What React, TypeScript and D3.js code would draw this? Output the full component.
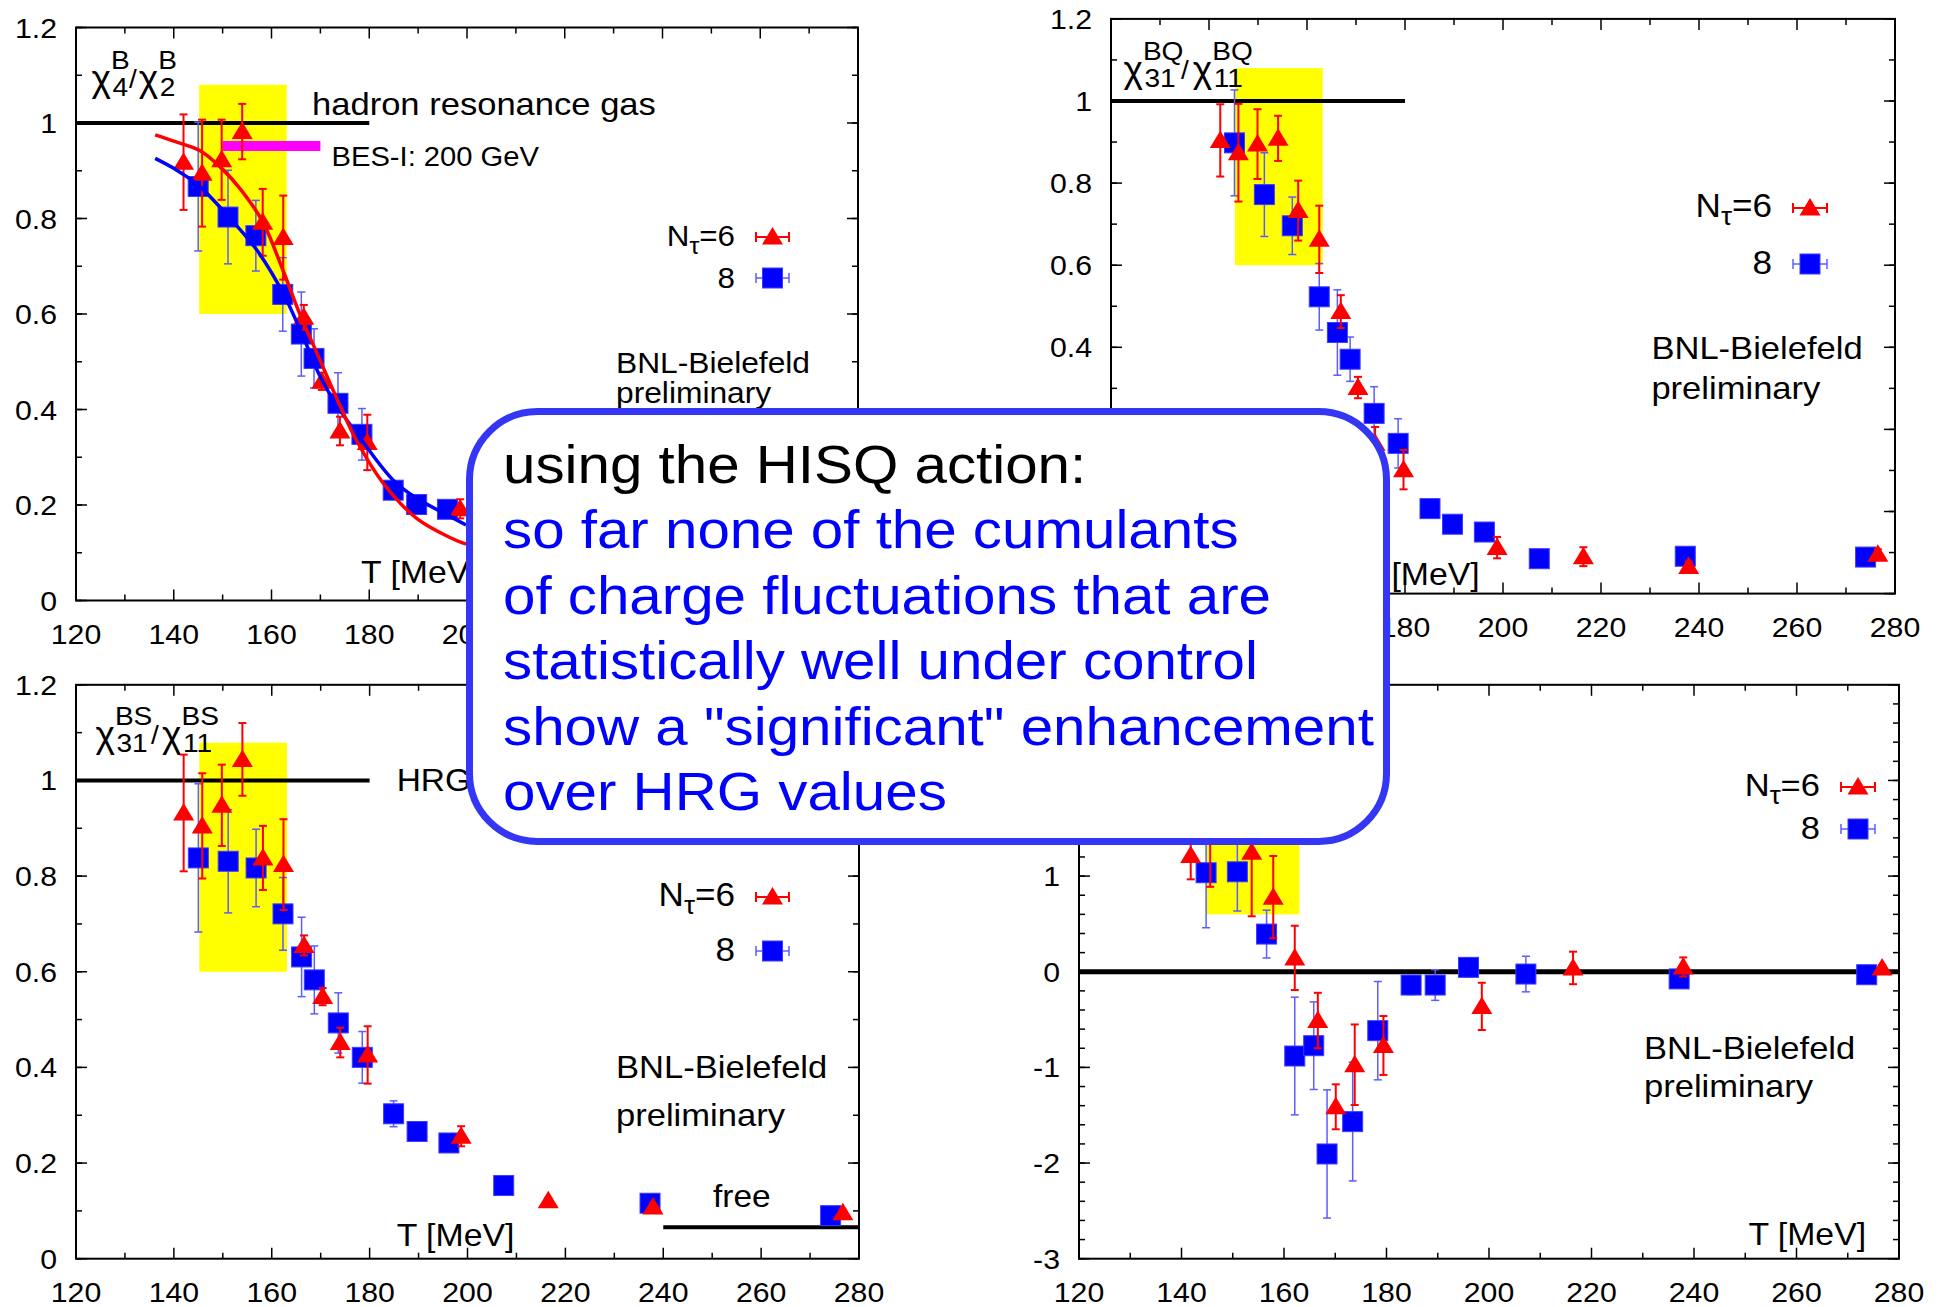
import React from "react";
import * as d3 from "d3";

type Pt = [number, number, number]; // T [MeV], value, error
type CurvePt = [number, number];

const FONT = "'Liberation Sans', Arial, Helvetica, sans-serif";
const X_DOMAIN: [number, number] = [120, 280];

// ---- chi4^B / chi2^B ----
const chi4B_N6: Pt[] = [
  [142.0, 0.918, 0.1], [145.8, 0.895, 0.112], [149.8, 0.923, 0.084], [154.0, 0.982, 0.058],
  [158.2, 0.792, 0.07], [162.4, 0.76, 0.088], [166.6, 0.593, 0.026], [170.3, 0.459, 0.018],
  [174.0, 0.355, 0.03], [179.6, 0.331, 0.058], [198.6, 0.192, 0.02],
];
const chi4B_N8: Pt[] = [
  [145.0, 0.867, 0.135], [151.1, 0.803, 0.098], [156.8, 0.764, 0.074], [162.3, 0.641, 0.077],
  [166.1, 0.558, 0.088], [168.7, 0.507, 0.062], [173.6, 0.413, 0.064], [178.5, 0.348, 0.054],
  [184.9, 0.231, 0.012], [189.7, 0.201, 0.01], [196.0, 0.191, 0.01],
];
const chi4B_fitN6: CurvePt[] = [
  [136.2, 0.975], [140, 0.962], [145.4, 0.942], [149.8, 0.905], [153.6, 0.862], [158.2, 0.793],
  [162.4, 0.69], [165.8, 0.6], [169.9, 0.504], [173.5, 0.42], [177.4, 0.335], [182.9, 0.245],
  [189.7, 0.172], [196.5, 0.132], [199.8, 0.118],
];
const chi4B_fitN8: CurvePt[] = [
  [136.2, 0.926], [140, 0.905], [145, 0.87], [151.2, 0.804], [157, 0.734], [162.4, 0.643],
  [166.5, 0.552], [169.9, 0.47], [173.6, 0.405], [178.5, 0.335], [184.9, 0.252], [189.7, 0.214],
  [196, 0.179], [199.8, 0.158],
];

// ---- chi31^BQ / chi11^BQ ----
const chiBQ_N6: Pt[] = [
  [142.3, 0.904, 0.088], [146.0, 0.874, 0.119], [149.9, 0.895, 0.085], [154.1, 0.909, 0.055],
  [158.2, 0.733, 0.073], [162.5, 0.663, 0.082], [166.9, 0.487, 0.04], [170.4, 0.302, 0.026],
  [173.9, 0.166, 0.04], [179.7, 0.102, 0.048], [198.8, -0.088, 0.026], [216.4, -0.11, 0.023],
  [237.9, -0.134, 0.012], [276.5, -0.104, 0.012],
];
const chiBQ_N8: Pt[] = [
  [145.2, 0.898, 0.129], [151.3, 0.772, 0.102], [157.0, 0.696, 0.07], [162.5, 0.523, 0.081],
  [166.2, 0.436, 0.104], [168.8, 0.371, 0.054], [173.7, 0.239, 0.065], [178.6, 0.166, 0.06],
  [185.1, 0.007, 0.01], [189.7, -0.031, 0.01], [196.2, -0.05, 0.01], [207.4, -0.115, 0.01],
  [237.2, -0.109, 0.01], [274.0, -0.111, 0.01],
];

// ---- chi31^BS / chi11^BS ----
const chiBS_N6: Pt[] = [
  [142.0, 0.932, 0.122], [145.8, 0.905, 0.11], [149.8, 0.948, 0.085], [154.0, 1.044, 0.076],
  [158.2, 0.838, 0.067], [162.4, 0.824, 0.095], [166.6, 0.655, 0.021], [170.4, 0.548, 0.018],
  [174.0, 0.452, 0.031], [179.6, 0.426, 0.06], [198.7, 0.256, 0.021], [216.5, 0.121, 0.006],
  [237.9, 0.108, 0.006], [276.7, 0.096, 0.006],
];
const chiBS_N8: Pt[] = [
  [145.0, 0.838, 0.155], [151.1, 0.831, 0.108], [156.8, 0.817, 0.081], [162.3, 0.721, 0.076],
  [166.1, 0.631, 0.083], [168.7, 0.583, 0.071], [173.6, 0.493, 0.063], [178.5, 0.421, 0.054],
  [184.9, 0.303, 0.027], [189.7, 0.266, 0.008], [196.2, 0.242, 0.008], [207.4, 0.153, 0.008],
  [237.3, 0.116, 0.008], [274.2, 0.09, 0.008],
];

// ---- fourth panel (ratio crossing zero) ----
const chi4_N6: Pt[] = [
  [141.8, 1.216, 0.25], [145.6, 1.45, 0.562], [153.7, 1.25, 0.67], [157.9, 0.78, 0.43],
  [162.1, 0.145, 0.336], [166.6, -0.51, 0.29], [170.1, -1.412, 0.235], [173.8, -0.972, 0.421],
  [179.4, -0.771, 0.308], [198.6, -0.362, 0.247], [216.4, 0.04, 0.17], [237.9, 0.05, 0.1],
  [276.7, 0.04, 0.03],
];
const chi4_N8: Pt[] = [
  [144.8, 1.035, 0.575], [150.9, 1.045, 0.41], [156.6, 0.394, 0.25], [162.1, -0.881, 0.615],
  [165.8, -0.773, 0.458], [168.4, -1.905, 0.67], [173.4, -1.567, 0.62], [178.3, -0.616, 0.514],
  [184.8, -0.139, 0.1], [189.5, -0.139, 0.16], [196.0, 0.046, 0.1], [207.2, -0.024, 0.186],
  [237.1, -0.075, 0.06], [273.7, -0.031, 0.03],
];

const overlayLines = [
  "using the HISQ action:",
  "so far none of the cumulants",
  "of charge fluctuations that are",
  "statistically well under control",
  "show a \"significant\" enhancement",
  "over HRG values",
];

const RED = "#ff0000";
const BLUE = "#0000ff";
const BLUE_ERR = "#5c5cff";

// summary box frame (outer edges)
const BOX = { x0: 466, y0: 408, x1: 1390, y1: 845 };

function coveredByBox(cx: number, baseline: number, w: number, h: number, anchor: string) {
  const left = anchor === "end" ? cx - w : anchor === "middle" ? cx - w / 2 : cx;
  const right = left + w;
  return left > BOX.x0 && right < BOX.x1 && baseline - h > BOX.y0 && baseline < BOX.y1;
}

function Label(props: {
  x: number; y: number; size: number; sx?: number; anchor?: string; fill?: string; children: React.ReactNode;
}) {
  const { x, y, size, sx = 1.08, anchor = "start", fill = "#000", children } = props;
  return (
    <text transform={`translate(${x},${y}) scale(${sx},1)`} fontSize={size} textAnchor={anchor as any}
      fill={fill} fontFamily={FONT}>{children}</text>
  );
}

function Triangle({ cx, cy }: { cx: number; cy: number }) {
  return <path d={`M${cx},${cy - 10}L${cx + 10.5},${cy + 7.5}L${cx - 10.5},${cy + 7.5}Z`} fill={RED} />;
}
function Square({ cx, cy }: { cx: number; cy: number }) {
  return <rect x={cx - 10} y={cy - 10} width={20} height={20} fill={BLUE} stroke="#3c3cff" strokeWidth={1} />;
}

type HLine = { t0: number; t1: number; v: number; w: number; color?: string };
type PanelCfg = {
  x0: number; x1: number; yTop: number; yBot: number; yDomain: [number, number];
  yMajor: number; yMinor: number;
  band: [number, number, number, number];
  n6: Pt[]; n8: Pt[]; fit6?: CurvePt[]; fit8?: CurvePt[];
  lines: HLine[];
  legend: { textX: number; sampleX: number; y1: number; y2: number; size: number; half: number };
  extra: () => React.ReactNode;
};

function fmt(v: number) {
  const r = Math.round(v * 10) / 10;
  return String(r);
}

function Panel({ cfg }: { cfg: PanelCfg }) {
  const x = d3.scaleLinear().domain(X_DOMAIN).range([cfg.x0, cfg.x1]);
  const y = d3.scaleLinear().domain(cfg.yDomain).range([cfg.yBot, cfg.yTop]);
  const [d0, d1] = cfg.yDomain;
  const nMaj = Math.round((d1 - d0) / cfg.yMajor);
  const yMaj = d3.range(nMaj + 1).map((i) => d0 + i * cfg.yMajor);
  const nMin = Math.round((d1 - d0) / cfg.yMinor);
  const yMin = d3.range(nMin + 1).map((i) => d0 + i * cfg.yMinor);
  const xMaj = d3.range(120, 281, 20);
  const xMin = d3.range(130, 280, 20);
  const line = d3.line<CurvePt>().x((d) => x(d[0])).y((d) => y(d[1])).curve(d3.curveCatmullRom.alpha(0.5));
  const L = 11, l = 6;
  const { legend } = cfg;
  const tickSize = 28;
  return (
    <g>
      <rect x={x(cfg.band[0])} y={y(cfg.band[3])} width={x(cfg.band[1]) - x(cfg.band[0])}
        height={y(cfg.band[2]) - y(cfg.band[3])} fill="#ffff00" />
      {/* ticks, mirrored on all four sides */}
      <g stroke="#000" strokeWidth={1.5}>
        {xMaj.map((t) => (
          <g key={"xM" + t}>
            <line x1={x(t)} x2={x(t)} y1={cfg.yBot} y2={cfg.yBot - L} />
            <line x1={x(t)} x2={x(t)} y1={cfg.yTop} y2={cfg.yTop + L} />
          </g>
        ))}
        {xMin.map((t) => (
          <g key={"xm" + t}>
            <line x1={x(t)} x2={x(t)} y1={cfg.yBot} y2={cfg.yBot - l} />
            <line x1={x(t)} x2={x(t)} y1={cfg.yTop} y2={cfg.yTop + l} />
          </g>
        ))}
        {yMaj.map((v) => (
          <g key={"yM" + v}>
            <line x1={cfg.x0} x2={cfg.x0 + L} y1={y(v)} y2={y(v)} />
            <line x1={cfg.x1} x2={cfg.x1 - L} y1={y(v)} y2={y(v)} />
          </g>
        ))}
        {yMin.map((v) => (
          <g key={"ym" + v}>
            <line x1={cfg.x0} x2={cfg.x0 + l} y1={y(v)} y2={y(v)} />
            <line x1={cfg.x1} x2={cfg.x1 - l} y1={y(v)} y2={y(v)} />
          </g>
        ))}
      </g>
      {xMaj.map((t) => {
        const s = String(t);
        const w = s.length * 0.556 * tickSize * 1.08;
        if (coveredByBox(x(t), cfg.yBot + 43, w, 21, "middle")) return null;
        return <Label key={"xl" + t} x={x(t)} y={cfg.yBot + 43} size={tickSize} anchor="middle">{s}</Label>;
      })}
      {yMaj.map((v) => {
        const s = fmt(v);
        const w = s.length * 0.556 * tickSize * 1.08;
        if (coveredByBox(cfg.x0 - 19, y(v) + 10, w, 21, "end")) return null;
        return <Label key={"yl" + v} x={cfg.x0 - 19} y={y(v) + 10} size={tickSize} anchor="end">{s}</Label>;
      })}
      {cfg.lines.map((h, i) => (
        <line key={"h" + i} x1={x(h.t0)} x2={x(h.t1)} y1={y(h.v)} y2={y(h.v)} stroke={h.color || "#000"} strokeWidth={h.w} />
      ))}
      {cfg.extra()}
      {/* N_tau = 8 */}
      <g stroke={BLUE_ERR} strokeWidth={1.5}>
        {cfg.n8.map((d, i) => (
          <g key={"e8" + i}>
            <line x1={x(d[0])} x2={x(d[0])} y1={y(d[1] - d[2])} y2={y(d[1] + d[2])} />
            <line x1={x(d[0]) - 4} x2={x(d[0]) + 4} y1={y(d[1] - d[2])} y2={y(d[1] - d[2])} />
            <line x1={x(d[0]) - 4} x2={x(d[0]) + 4} y1={y(d[1] + d[2])} y2={y(d[1] + d[2])} />
          </g>
        ))}
      </g>
      {cfg.n8.map((d, i) => <Square key={"s" + i} cx={x(d[0])} cy={y(d[1])} />)}
      {/* N_tau = 6 */}
      <g stroke={RED} strokeWidth={2}>
        {cfg.n6.map((d, i) => (
          <g key={"e6" + i}>
            <line x1={x(d[0])} x2={x(d[0])} y1={y(d[1] - d[2])} y2={y(d[1] + d[2])} />
            <line x1={x(d[0]) - 4} x2={x(d[0]) + 4} y1={y(d[1] - d[2])} y2={y(d[1] - d[2])} />
            <line x1={x(d[0]) - 4} x2={x(d[0]) + 4} y1={y(d[1] + d[2])} y2={y(d[1] + d[2])} />
          </g>
        ))}
      </g>
      {cfg.n6.map((d, i) => <Triangle key={"t" + i} cx={x(d[0])} cy={y(d[1])} />)}
      {cfg.fit8 && <path d={line(cfg.fit8) || ""} fill="none" stroke={BLUE} strokeWidth={3.5} />}
      {cfg.fit6 && <path d={line(cfg.fit6) || ""} fill="none" stroke={RED} strokeWidth={3.5} />}
      {/* legend */}
      <Label x={legend.textX} y={legend.y1 + 9} size={legend.size} anchor="end">
        N<tspan dy={8} fontSize={legend.size * 0.8}>τ</tspan><tspan dy={-8}>=6</tspan>
      </Label>
      <Label x={legend.textX} y={legend.y2 + 10} size={legend.size} anchor="end">8</Label>
      <g stroke={RED} strokeWidth={2}>
        <line x1={legend.sampleX - legend.half} x2={legend.sampleX + legend.half} y1={legend.y1} y2={legend.y1} />
        <line x1={legend.sampleX - legend.half} x2={legend.sampleX - legend.half} y1={legend.y1 - 5} y2={legend.y1 + 5} />
        <line x1={legend.sampleX + legend.half} x2={legend.sampleX + legend.half} y1={legend.y1 - 5} y2={legend.y1 + 5} />
      </g>
      <Triangle cx={legend.sampleX} cy={legend.y1} />
      <g stroke={BLUE_ERR} strokeWidth={1.5}>
        <line x1={legend.sampleX - legend.half} x2={legend.sampleX + legend.half} y1={legend.y2} y2={legend.y2} />
        <line x1={legend.sampleX - legend.half} x2={legend.sampleX - legend.half} y1={legend.y2 - 5} y2={legend.y2 + 5} />
        <line x1={legend.sampleX + legend.half} x2={legend.sampleX + legend.half} y1={legend.y2 - 5} y2={legend.y2 + 5} />
      </g>
      <Square cx={legend.sampleX} cy={legend.y2} />
      <rect x={cfg.x0} y={cfg.yTop} width={cfg.x1 - cfg.x0} height={cfg.yBot - cfg.yTop} fill="none" stroke="#000" strokeWidth={2} />
    </g>
  );
}

// ratio label chi_a^sup / chi_b^sup with stacked sub/superscripts
function Chi(props: { x: number; y: number; a: string; b: string; sup: string; slashX: number; x2: number }) {
  const { x, y, a, b, sup } = props;
  const s = 37, ss = 26;
  return (
    <g>
      <Label x={x} y={y} size={s} sx={1.0}>χ</Label>
      <Label x={x + 21} y={y + 5} size={ss}>{a}</Label>
      <Label x={x + 19.5} y={y - 22} size={ss}>{sup}</Label>
      <Label x={props.slashX} y={y - 3} size={ss}>/</Label>
      <Label x={props.x2} y={y} size={s} sx={1.0}>χ</Label>
      <Label x={props.x2 + 21} y={y + 5} size={ss}>{b}</Label>
      <Label x={props.x2 + 19.5} y={y - 22} size={ss}>{sup}</Label>
    </g>
  );
}

const panels: PanelCfg[] = [
  {
    x0: 76, x1: 858, yTop: 27.5, yBot: 600.5, yDomain: [0, 1.2], yMajor: 0.2, yMinor: 0.1,
    band: [145.2, 163.1, 0.6, 1.08], n6: chi4B_N6, n8: chi4B_N8, fit6: chi4B_fitN6, fit8: chi4B_fitN8,
    lines: [{ t0: 120, t1: 180, v: 1, w: 4 }, { t0: 150, t1: 170, v: 0.952, w: 10, color: "#ff00ff" }],
    legend: { textX: 735, sampleX: 772.5, y1: 237, y2: 278, size: 29, half: 16.5 },
    extra: () => (
      <g>
        <Chi x={91.6} y={90.5} a="4" b="2" sup="B" slashX={129} x2={138.7} />
        <Label x={312} y={115} size={32}>hadron resonance gas</Label>
        <Label x={331.5} y={166} size={27}>BES-I: 200 GeV</Label>
        <Label x={616} y={372.7} size={29.4}>BNL-Bielefeld</Label>
        <Label x={616} y={403} size={29.4}>preliminary</Label>
        <Label x={361} y={583} size={31.3}>T [MeV]</Label>
      </g>
    ),
  },
  {
    x0: 1111, x1: 1895, yTop: 18.9, yBot: 593.6, yDomain: [-0.2, 1.2], yMajor: 0.2, yMinor: 0.1,
    band: [145.3, 163.2, 0.6, 1.08], n6: chiBQ_N6, n8: chiBQ_N8,
    lines: [{ t0: 120, t1: 180, v: 1, w: 4 }],
    legend: { textX: 1772, sampleX: 1810, y1: 208, y2: 264, size: 32.5, half: 17 },
    extra: () => (
      <g>
        <Chi x={1123.4} y={82} a="31" b="11" sup="BQ" slashX={1181} x2={1192.7} />
        <Label x={1651.4} y={359} size={32}>BNL-Bielefeld</Label>
        <Label x={1651.4} y={398.5} size={32}>preliminary</Label>
        <Label x={1362} y={585} size={31.3}>T [MeV]</Label>
      </g>
    ),
  },
  {
    x0: 76, x1: 859, yTop: 684.8, yBot: 1258.7, yDomain: [0, 1.2], yMajor: 0.2, yMinor: 0.1,
    band: [145.2, 163.1, 0.6, 1.079], n6: chiBS_N6, n8: chiBS_N8,
    lines: [{ t0: 120, t1: 180, v: 1, w: 4 }, { t0: 240, t1: 280, v: 0.066, w: 4 }],
    legend: { textX: 735, sampleX: 772.5, y1: 897, y2: 951, size: 32.5, half: 16.5 },
    extra: () => (
      <g>
        <Chi x={95.4} y={747} a="31" b="11" sup="BS" slashX={151} x2={162} />
        <Label x={396.7} y={791} size={31}>HRG</Label>
        <Label x={713} y={1207} size={31}>free</Label>
        <Label x={616} y={1078} size={32}>BNL-Bielefeld</Label>
        <Label x={616} y={1126} size={32}>preliminary</Label>
        <Label x={396.7} y={1246} size={31.3}>T [MeV]</Label>
      </g>
    ),
  },
  {
    x0: 1079, x1: 1899, yTop: 684.8, yBot: 1258.7, yDomain: [-3, 3], yMajor: 1, yMinor: 0.2,
    band: [144.9, 163.0, 0.6, 2.0], n6: chi4_N6, n8: chi4_N8,
    lines: [{ t0: 120, t1: 280, v: 0, w: 5 }],
    legend: { textX: 1820, sampleX: 1858, y1: 787, y2: 829, size: 32, half: 17 },
    extra: () => (
      <g>
        <Label x={1644} y={1058.5} size={32}>BNL-Bielefeld</Label>
        <Label x={1644} y={1097.4} size={32}>preliminary</Label>
        <Label x={1748.4} y={1245} size={31.3}>T [MeV]</Label>
      </g>
    ),
  },
];

export default function App() {
  return (
    <svg width={1944} height={1307} viewBox="0 0 1944 1307"
      style={{ position: "absolute", left: 0, top: 0, background: "#fff" }}>
      <rect x={0} y={0} width={1944} height={1307} fill="#fff" />
      {panels.map((p, i) => <Panel key={i} cfg={p} />)}
      {/* summary box drawn over the panels */}
      <rect x={BOX.x0 + 3.5} y={BOX.y0 + 3.5} width={BOX.x1 - BOX.x0 - 7} height={BOX.y1 - BOX.y0 - 7}
        rx={68} ry={68} fill="#fff" stroke="#3535f5" strokeWidth={7} />
      {overlayLines.map((t, i) => (
        <Label key={i} x={503} y={483 + i * 65.4} size={53} sx={1.1} fill={i === 0 ? "#000" : "#0000ff"}>{t}</Label>
      ))}
    </svg>
  );
}
